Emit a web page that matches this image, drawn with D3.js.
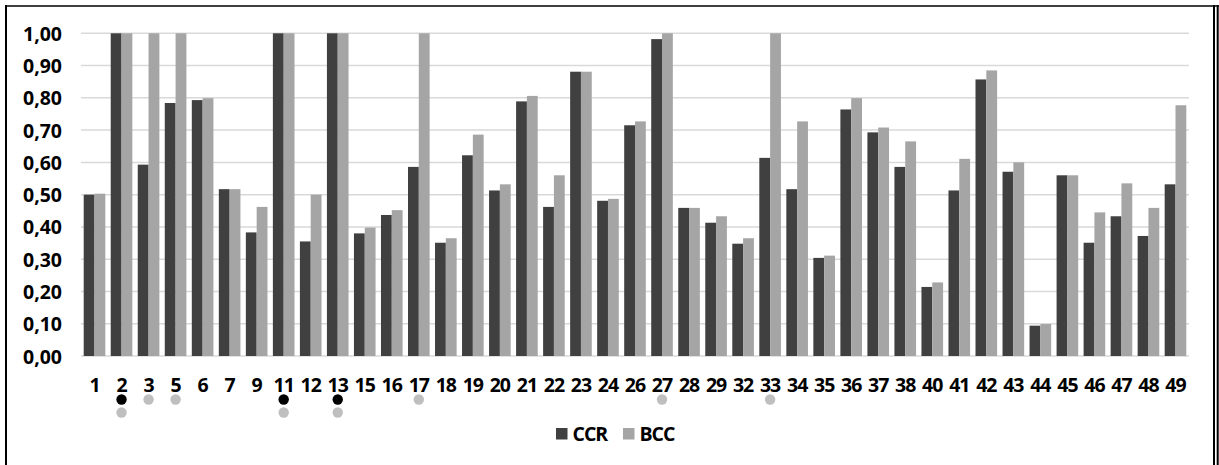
<!DOCTYPE html>
<html>
<head>
<meta charset="utf-8">
<script src="https://cdn.jsdelivr.net/npm/d3@7"></script>
<style>
  html, body { margin: 0; padding: 0; background: #fff; }
  svg { display: block; }
  text { font-family: "Open Sans", Lato, sans-serif; font-weight: 700; fill: #000; }
</style>
</head>
<body>
<svg id="chart" width="1219" height="465"></svg>
<script>
// Decision-making units
const categories = ["1","2","3","5","6","7","9","11","12","13","15","16","17","18","19","20","21","22","23","24","26","27","28","29","32","33","34","35","36","37","38","40","41","42","43","44","45","46","47","48","49"];

// Efficiency scores per model
const ccrValues = [0.50,1.00,0.593,0.784,0.793,0.517,0.383,1.00,0.355,1.00,0.380,0.437,0.586,0.351,0.622,0.513,0.789,0.462,0.881,0.481,0.715,0.982,0.459,0.413,0.348,0.614,0.517,0.304,0.764,0.693,0.586,0.214,0.513,0.857,0.571,0.094,0.560,0.351,0.433,0.372,0.532];
const bccValues = [0.503,1.00,1.00,1.00,0.799,0.517,0.462,1.00,0.50,1.00,0.398,0.452,1.00,0.365,0.686,0.532,0.806,0.560,0.881,0.487,0.727,1.00,0.459,0.433,0.365,1.00,0.727,0.311,0.799,0.708,0.665,0.228,0.611,0.885,0.600,0.099,0.560,0.445,0.535,0.459,0.777];

// Units marked as efficient under each model
const ccrEfficient = ["2","11","13"];
const bccEfficient = ["2","3","5","11","13","17","27","33"];

const seriesNames = ["CCR","BCC"];
const yTicks = [0,0.1,0.2,0.3,0.4,0.5,0.6,0.7,0.8,0.9,1.0];

const colors = { CCR: "#404040", BCC: "#a5a5a5" };
const dotColors = { CCR: "#000000", BCC: "#bfbfbf" };

const fontFamily = "'Open Sans', Lato, sans-serif";
const fontSize = 19.5;

const svg = d3.select("#chart");

// Frame
svg.append("line").attr("x1", 6).attr("x2", 6).attr("y1", 5).attr("y2", 465)
  .attr("stroke", "#000").attr("stroke-width", 2);
svg.append("line").attr("x1", 5).attr("x2", 1219).attr("y1", 6).attr("y2", 6)
  .attr("stroke", "#000").attr("stroke-width", 1.7);
svg.append("line").attr("x1", 1214).attr("x2", 1214).attr("y1", 5).attr("y2", 465)
  .attr("stroke", "#000").attr("stroke-width", 2);
svg.append("line").attr("x1", 1217.7).attr("x2", 1217.7).attr("y1", 5).attr("y2", 465)
  .attr("stroke", "#000").attr("stroke-width", 2);

const plotLeft = 81, plotRight = 1189, plotTop = 33.3, plotBottom = 356;

const x = d3.scaleBand().domain(categories).range([plotLeft, plotRight])
  .paddingInner(0.2).paddingOuter(0.1);
const xs = d3.scaleBand().domain(seriesNames).range([0, x.bandwidth()]);
const y = d3.scaleLinear().domain([0, 1]).range([plotBottom, plotTop]);

const fmt = v => d3.format(".2f")(v).replace(".", ",");

// Gridlines
svg.append("g").selectAll("line").data(yTicks).join("line")
  .attr("x1", plotLeft).attr("x2", plotRight)
  .attr("y1", d => y(d)).attr("y2", d => y(d))
  .attr("stroke", "#d9d9d9").attr("stroke-width", 1.5);

// Y axis labels
const yAxis = d3.axisLeft(y).tickValues(yTicks).tickFormat(fmt).tickSize(0).tickPadding(0);
const yg = svg.append("g").attr("transform", "translate(62,0)").call(yAxis);
yg.select(".domain").remove();
yg.selectAll("text").attr("font-size", fontSize).attr("dy", "0.36em")
  .style("font-family", fontFamily).style("font-weight", 700).attr("fill", "#000");

// Bars
const rows = categories.map((c, i) => ({ cat: c, CCR: ccrValues[i], BCC: bccValues[i] }));
const groups = svg.append("g").selectAll("g").data(rows).join("g")
  .attr("transform", d => `translate(${x(d.cat)},0)`);
groups.selectAll("rect").data(d => seriesNames.map(s => ({ s, v: d[s] }))).join("rect")
  .attr("x", d => xs(d.s))
  .attr("width", xs.bandwidth())
  .attr("y", d => y(d.v))
  .attr("height", d => y(0) - y(d.v))
  .attr("fill", d => colors[d.s]);

// X axis labels
const xAxis = d3.axisBottom(x).tickSize(0).tickPadding(0);
const xg = svg.append("g").attr("transform", "translate(0,384.5)").call(xAxis);
xg.select(".domain").remove();
xg.selectAll("text").attr("font-size", fontSize).attr("dy", "0.36em").attr("y", 0)
  .attr("letter-spacing", -1)
  .style("font-family", fontFamily).style("font-weight", 700).attr("fill", "#000");

// Efficiency markers below labels
const markers = [];
categories.forEach(c => {
  let row = 0;
  if (ccrEfficient.includes(c)) markers.push({ c, s: "CCR", row: row++ });
  if (bccEfficient.includes(c)) markers.push({ c, s: "BCC", row: row++ });
});
svg.append("g").selectAll("circle").data(markers).join("circle")
  .attr("cx", d => x(d.c) + x.bandwidth() / 2)
  .attr("cy", d => d.row === 0 ? 399.5 : 412.5)
  .attr("r", 5.2)
  .attr("fill", d => dotColors[d.s]);

// Legend
const legend = svg.append("g").attr("transform", "translate(556,428)");
const legendX = { CCR: 0, BCC: 67 };
seriesNames.forEach(s => {
  const g = legend.append("g").attr("transform", `translate(${legendX[s]},0)`);
  g.append("rect").attr("width", 11.5).attr("height", 11.5).attr("fill", colors[s]);
  g.append("text").attr("x", 16.5).attr("y", 12.5).attr("font-size", fontSize)
    .attr("letter-spacing", -1).text(s);
});
</script>
</body>
</html>
